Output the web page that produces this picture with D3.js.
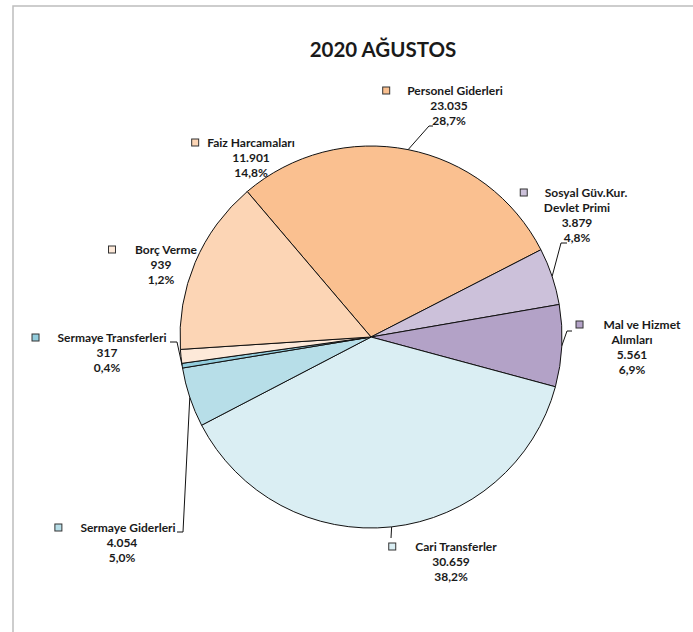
<!DOCTYPE html>
<html>
<head>
<meta charset="utf-8">
<script src="https://cdn.jsdelivr.net/npm/d3@7"></script>
<style>
  body { margin: 0; background: #fff; }
  text { font-family: Lato, "Open Sans", sans-serif; font-weight: bold; fill: #1a1a1a; }
</style>
</head>
<body>
<div id="chart"></div>
<script>
// 2020 AĞUSTOS pie chart

// Data (in pie order, clockwise)
const names = [
  ["Personel Giderleri"],
  ["Sosyal Güv.Kur.", "Devlet Primi"],
  ["Mal ve Hizmet", "Alımları"],
  ["Cari Transferler"],
  ["Sermaye Giderleri"],
  ["Sermaye Transferleri"],
  ["Borç Verme"],
  ["Faiz Harcamaları"]
];
const values = [23035, 3879, 5561, 30659, 4054, 317, 939, 11901];
const colors = ["#FAC090", "#CCC1DA", "#B3A2C7", "#DAEEF3", "#B7DEE8", "#93CDDD", "#FDE9D9", "#FCD5B5"];

// Label placement (first line center, baseline, center of other lines, key gap)
const labelPos = [
  {c1: 455, y: 95, cx: 449, gap: 21, elbow: [[433, 126], [429, 126]]},
  {c1: 586, y: 197, cx: 577, gap: 21, elbow: [[567, 243], [561, 243]]},
  {c1: 642, y: 329, cx: 632, gap: 24, elbow: [[572, 331], [567, 331]]},
  {c1: 456, y: 551, cx: 451, gap: 23, elbow: [[391, 538]]},
  {c1: 128, y: 532, cx: 122, gap: 22, elbow: [[177, 532], [183, 532]]},
  {c1: 112, y: 342, cx: 107, gap: 22, elbow: [[170, 342], [177, 342]]},
  {c1: 166, y: 254, cx: 161, gap: 23, elbow: null},
  {c1: 251, y: 147, cx: 251, gap: 12, elbow: null}
];

const width = 693;
const height = 632;
const cx = 371, cy = 337, radius = 191;

const fmtNum = d3.formatLocale({decimal: ",", thousands: ".", grouping: [3]});
const fmtVal = fmtNum.format(",d");
const fmtPct = fmtNum.format(".1%");

const svg = d3.select("#chart")
  .append("svg")
  .attr("width", width)
  .attr("height", height);

// Chart frame
svg.append("rect")
  .attr("x", 13)
  .attr("y", 6)
  .attr("width", width)
  .attr("height", height)
  .attr("fill", "none")
  .attr("stroke", "#bdbdbd")
  .attr("stroke-width", 1.5);

svg.append("text")
  .attr("x", 383)
  .attr("y", 57)
  .attr("text-anchor", "middle")
  .attr("font-size", 20.5)
  .text("2020 AĞUSTOS");

const total = d3.sum(values);
const startAngle = -40.4 * Math.PI / 180;

const pie = d3.pie()
  .sort(null)
  .startAngle(startAngle)
  .endAngle(startAngle + 2 * Math.PI);

const arcs = pie(values);
const arc = d3.arc().innerRadius(0).outerRadius(radius);

const g = svg.append("g")
  .attr("transform", `translate(${cx},${cy})`);

g.selectAll("path")
  .data(arcs)
  .join("path")
    .attr("d", arc)
    .attr("fill", (d, i) => colors[i])
    .attr("stroke", "#111")
    .attr("stroke-width", 1)
    .attr("stroke-linejoin", "round");

// Leader lines from label to slice edge
const line = d3.line();
arcs.forEach((d, i) => {
  const p = labelPos[i];
  if (!p.elbow) return;
  const mid = (d.startAngle + d.endAngle) / 2;
  const end = [cx + radius * Math.sin(mid), cy - radius * Math.cos(mid)];
  svg.append("path")
    .attr("d", line([...p.elbow, end]))
    .attr("fill", "none")
    .attr("stroke", "#111")
    .attr("stroke-width", 1);
});

// Labels
arcs.forEach((d, i) => {
  const p = labelPos[i];
  const lines = [...names[i], fmtVal(values[i]), fmtPct(values[i] / total)];
  const lg = svg.append("g");
  lines.forEach((t, j) => {
    const tx = lg.append("text")
      .attr("x", j === 0 ? p.c1 : p.cx)
      .attr("y", p.y + j * 15)
      .attr("text-anchor", "middle")
      .attr("font-size", 12)
      .text(t);
    if (j === 0) {
      const w = tx.node().getComputedTextLength();
      const sx = p.c1 - w / 2 - p.gap;
      lg.append("rect")
        .attr("x", sx - 3.5)
        .attr("y", p.y - 8)
        .attr("width", 7)
        .attr("height", 7)
        .attr("fill", colors[i])
        .attr("stroke", "#333")
        .attr("stroke-width", 1);
    }
  });
});
</script>
</body>
</html>
